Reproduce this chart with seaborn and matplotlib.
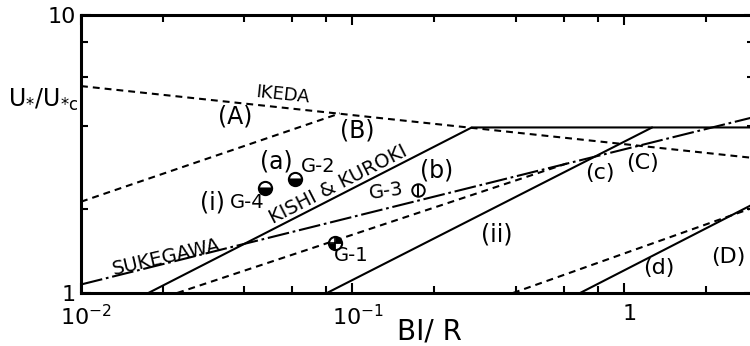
import matplotlib

matplotlib.use("Agg")
import matplotlib.pyplot as plt
import numpy as np
import seaborn as sns
from matplotlib.path import Path
from matplotlib.ticker import FixedLocator, LogLocator, NullFormatter
from matplotlib.transforms import ScaledTranslation

# values (log-log, BI/R vs U*/U*c)
ikeda_x = [0.01, 3.0]
ikeda_y = [5.55, 3.06]
curve_a_x = [0.01, 0.090]
curve_a_y = [2.13, 4.43]
kishi_x = [0.0177, 0.275, 3.0]
kishi_y = [1.0, 3.94, 3.94]
curve_ii_x = [0.0805, 1.27]
curve_ii_y = [1.0, 3.94]
sukegawa_x = [0.01, 3.0]
sukegawa_y = [1.073, 4.29]
curve_b_x = [0.0226, 0.62]
curve_b_y = [1.0, 2.93]
curve_big_d_x = [0.39, 3.0]
curve_big_d_y = [1.0, 2.03]
curve_d_x = [0.689, 3.0]
curve_d_y = [1.0, 2.09]

run_names = ["G-1", "G-2", "G-3", "G-4"]
run_x = [0.0862, 0.0613, 0.174, 0.0477]
run_y = [1.515, 2.58, 2.35, 2.39]

# curve / point annotations: text, x, y, rotation
label_text = ["IKEDA", "(A)", "(B)", "(a)", "G-2", "(i)", "G-4", "KISHI & KUROKI",
              "G-3", "(b)", "(c)", "(C)", "(ii)", "SUKEGAWA", "G-1", "(d)", "(D)"]
label_x = [0.0555, 0.0369, 0.104, 0.0523, 0.0747, 0.0304, 0.0409, 0.0885,
           0.133, 0.205, 0.816, 1.175, 0.340, 0.0207, 0.0987, 1.346, 2.415]
label_y = [5.14, 4.32, 3.84, 2.97, 2.85, 2.11, 2.11, 2.45,
           2.33, 2.76, 2.71, 2.94, 1.63, 1.349, 1.36, 1.23, 1.349]
label_rot = [-6, 0, 0, 0, 0, 0, 0, 27, 8, 0, 0, 0, 0, 13, 0, 0, 0]
label_size = [13, 17, 17, 17, 14, 17, 14, 14, 14, 17, 16, 16, 17, 14, 14, 16, 16]

x_ticks = [0.01, 0.1, 1]
x_ticklabels = ["$10^{-2}$", "$10^{-1}$", "$1$"]
y_ticks = [1, 10]
y_ticklabels = ["1", "10"]

sns.set_style("ticks")
plt.rcParams["font.family"] = ["DejaVu Sans"]
plt.rcParams["text.color"] = "black"
plt.rcParams["xtick.color"] = "black"
plt.rcParams["ytick.color"] = "black"
plt.rcParams["axes.labelcolor"] = "black"

fig = plt.figure(figsize=(7.5, 3.46), dpi=100)
ax = fig.add_axes([81 / 750, 1 - 293 / 346, (753.5 - 81) / 750, (293 - 15) / 346])

lw = 1.5
dashed = (0, (3.3, 2.4))
dashdot = (0, (10.5, 1.8, 1.3, 1.8))

sns.lineplot(x=ikeda_x, y=ikeda_y, ax=ax, color="black", lw=lw, linestyle=dashed)
sns.lineplot(x=curve_a_x, y=curve_a_y, ax=ax, color="black", lw=lw, linestyle=dashed)
sns.lineplot(x=kishi_x, y=kishi_y, ax=ax, color="black", lw=lw)
sns.lineplot(x=curve_ii_x, y=curve_ii_y, ax=ax, color="black", lw=lw)
sns.lineplot(x=sukegawa_x, y=sukegawa_y, ax=ax, color="black", lw=lw, linestyle=dashdot)
sns.lineplot(x=curve_b_x, y=curve_b_y, ax=ax, color="black", lw=lw, linestyle=dashed)
sns.lineplot(x=curve_big_d_x, y=curve_big_d_y, ax=ax, color="black", lw=lw, linestyle=dashed)
sns.lineplot(x=curve_d_x, y=curve_d_y, ax=ax, color="black", lw=lw)

# experiment points
ms = 9.5
i1, i2, i3, i4 = range(4)
for i in (i2, i4):
    ax.plot(run_x[i], run_y[i], marker="o", ms=ms, mew=1.5, mec="black",
            mfc="black", markerfacecoloralt="white", fillstyle="bottom", zorder=5)

# G-1: quartered circle, top-right and bottom-left filled
t1 = np.linspace(0, np.pi / 2, 20)
t3 = np.linspace(np.pi, 1.5 * np.pi, 20)
verts = ([(0, 0)] + list(zip(np.cos(t1), np.sin(t1))) + [(0, 0)]
         + [(0, 0)] + list(zip(np.cos(t3), np.sin(t3))) + [(0, 0)])
codes = ([Path.MOVETO] + [Path.LINETO] * 20 + [Path.CLOSEPOLY]) * 2
quarters = Path(verts, codes)
ax.plot(run_x[i1], run_y[i1], marker="o", ms=ms, mew=1.5, mec="black", mfc="white", zorder=5)
ax.plot(run_x[i1], run_y[i1], marker=quarters, ms=ms, mew=0, mfc="black", zorder=6)
ax.plot(run_x[i1], run_y[i1], marker="+", ms=ms, mew=1.2, mec="black", zorder=7)

# G-3: circle with a vertical bar
ax.plot(run_x[i3], run_y[i3], marker="o", ms=9, mew=1.4, mec="black", mfc="white", zorder=5)
ax.plot(run_x[i3], run_y[i3], marker="|", ms=9, mew=1.4, mec="black", zorder=6)

for txt, lx, ly, rot, fs in zip(label_text, label_x, label_y, label_rot, label_size):
    ax.text(lx, ly, txt, fontsize=fs, rotation=rot, ha="center", va="center",
            rotation_mode="anchor", color="black")

ax.set_xscale("log")
ax.set_yscale("log")
ax.set_xlim(0.01, 3.0)
ax.set_ylim(1, 10)

ax.xaxis.set_major_locator(FixedLocator(x_ticks))
ax.set_xticklabels(x_ticklabels)
ax.yaxis.set_major_locator(FixedLocator(y_ticks))
ax.set_yticklabels(y_ticklabels)
ax.xaxis.set_minor_locator(LogLocator(base=10, subs=[2, 4, 6, 8]))
ax.yaxis.set_minor_locator(LogLocator(base=10, subs=[2, 4, 6, 8]))
ax.xaxis.set_minor_formatter(NullFormatter())
ax.yaxis.set_minor_formatter(NullFormatter())

ax.tick_params(which="both", direction="in", top=True, right=True, width=1.5, color="black")
ax.tick_params(which="major", length=7)
ax.tick_params(which="minor", length=5)
ax.tick_params(axis="x", which="major", labelsize=16, pad=8)
ax.tick_params(axis="y", which="major", labelsize=16, pad=4)
for lab in ax.get_xticklabels():
    lab.set_transform(lab.get_transform() + ScaledTranslation(5 / 100, 0, fig.dpi_scale_trans))

for side in ax.spines.values():
    side.set_linewidth(2.2)
    side.set_color("black")

ax.set_xlabel("")
ax.set_ylabel("")
fig.text(429 / 750, 1 - 331 / 346, "BI/ R", fontsize=20, ha="center", va="center")
fig.text(8 / 750, 1 - 100 / 346, r"U$_{*}$/U$_{*\mathrm{c}}$", fontsize=17, ha="left", va="center")

fig.savefig("out.png", dpi=100)
